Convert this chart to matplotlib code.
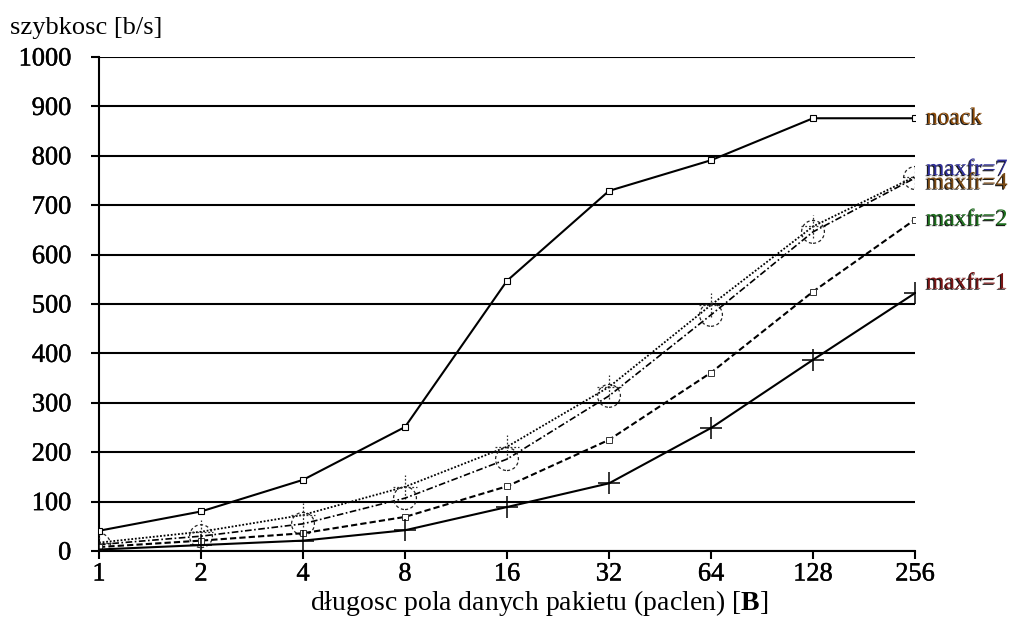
from matplotlib import pyplot as plt
from matplotlib import patheffects as pe
import numpy as np

# dane
paclen = [1, 2, 4, 8, 16, 32, 64, 128, 256]
noack = [41, 80, 144, 251, 547, 729, 791, 876, 876]
maxfr7 = [17, 39, 73, 130, 211, 332, 498, 657, 758]
maxfr4 = [13, 30, 55, 107, 186, 314, 478, 646, 755]
maxfr2 = [8, 21, 36, 69, 131, 225, 361, 525, 671]
maxfr1 = [3, 12, 21, 42, 89, 137, 249, 387, 522]
y_ticks = [0, 100, 200, 300, 400, 500, 600, 700, 800, 900, 1000]

plt.rcParams['font.family'] = ['Liberation Serif', 'DejaVu Serif']
plt.rcParams['mathtext.fontset'] = 'custom'
plt.rcParams['mathtext.bf'] = 'Liberation Serif:bold'
fs = 19
gruby = [pe.withStroke(linewidth=0.3, foreground='black')]

fig = plt.figure(figsize=(10.14, 6.19), dpi=100)
ax = fig.add_axes([99/1014, 1 - 551/619, (915-99)/1014, (551-57)/619])

ax.set_xscale('log', base=2)
ax.set_xlim(1, 256)
ax.set_ylim(0, 1000)

# linie siatki
for v in y_ticks:
    ax.axhline(v, color='black', lw=1.5, zorder=1)

# serie
ax.plot(paclen, noack, color='black', lw=1.5, marker='s', ms=5,
        mfc='white', mec='black', mew=0.8, zorder=5)

ax.plot(paclen, maxfr7, color='black', lw=1.3, ls=(0, (1, 1)), zorder=4)
ax.scatter(paclen, maxfr7, marker='+', s=290, c='#333333', linewidths=0.9,
           linestyle=(0, (1.5, 1.5)), zorder=4)

ax.plot(paclen, maxfr4, color='black', lw=1.2, ls=(0, (4, 1.5, 1, 1.5)), zorder=4)
ax.scatter(paclen, maxfr4, marker='o', s=270, facecolors='none',
           edgecolors='#222222', linewidths=0.9, linestyle=(0, (2.5, 2)), zorder=4)

ax.plot(paclen, maxfr2, color='black', lw=1.5, ls=(0, (3, 1.5)), marker='s', ms=4,
        mfc='white', mec='#333333', mew=0.7, zorder=4)

ax.plot(paclen, maxfr1, color='black', lw=1.5, marker='+', ms=16, mew=1.1, zorder=4)

# etykiety serii
etykiety = [('noack', noack, '#8B4A08', 0),
            ('maxfr=7', maxfr7, '#2E2E9A', 7),
            ('maxfr=4', maxfr4, '#7A4A14', -5),
            ('maxfr=2', maxfr2, '#1E701E', 0),
            ('maxfr=1', maxfr1, '#7A1515', 10)]
for nazwa, serie, kolor, dy in etykiety:
    ax.annotate(nazwa, xy=(paclen[-1], serie[-1]), xytext=(8, dy * 0.72),
                textcoords='offset points', ha='left', va='center',
                fontsize=17, color=kolor, annotation_clip=False,
                path_effects=[pe.withSimplePatchShadow(offset=(-0.8, -0.8),
                                                       shadow_rgbFace='black', alpha=0.9)])

# osie
ax.set_xticks(paclen)
ax.set_xticklabels([str(p) for p in paclen])
ax.xaxis.set_minor_locator(plt.NullLocator())
ax.set_yticks(y_ticks)
ax.set_yticklabels([str(v) for v in y_ticks])
for lab in ax.get_xticklabels() + ax.get_yticklabels():
    lab.set_path_effects(gruby)

ax.spines['right'].set_visible(False)
ax.spines['top'].set_visible(False)
ax.spines['left'].set_linewidth(1.5)
ax.spines['bottom'].set_linewidth(1.5)

ax.tick_params(axis='y', length=6, width=1.5, direction='out', pad=14, labelsize=fs)
ax.tick_params(axis='x', length=6, width=1.5, direction='out', pad=3, labelsize=fs)

fig.text(10/1014, 1 - 28/619, 'szybkosc [b/s]', fontsize=fs, ha='left', va='center')
fig.text(539/1014, 1 - 603/619, r'długosc pola danych pakietu (paclen) [$\mathbf{B}$]',
         fontsize=20, ha='center', va='center')

fig.savefig('out.png', dpi=100)
